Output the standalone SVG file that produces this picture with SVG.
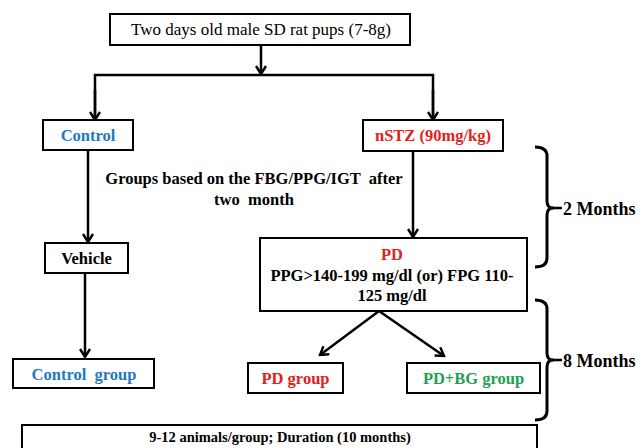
<svg xmlns="http://www.w3.org/2000/svg" width="640" height="448" viewBox="0 0 640 448">
<defs>
<style>
.box{fill:#fff;stroke:#000;stroke-width:2}
.t{font-family:"Liberation Serif","Times New Roman",serif;font-weight:bold;font-size:16.5px;text-anchor:middle;fill:#000}
.reg{font-weight:normal;font-size:17px}
.blue{fill:#2479be}
.red{fill:#e3211c}
.green{fill:#1fa055}
.ln{fill:none;stroke:#000;stroke-width:2.5}
.br{fill:none;stroke:#000;stroke-width:3;stroke-linejoin:round}
</style>
<marker id="ah" viewBox="0 0 12 12" refX="10" refY="6" markerWidth="12" markerHeight="12" markerUnits="userSpaceOnUse" orient="auto">
<path d="M2,1 L10,6 L2,11" fill="none" stroke="#000" stroke-width="2.4"/>
</marker>
</defs>
<rect width="640" height="448" fill="#fff"/>

<g id="connectors">
<line class="ln" x1="261" y1="45" x2="261" y2="74" marker-end="url(#ah)"/>
<polyline class="ln" points="95,121 95,75 433,75 433,121"/>
<line class="ln" x1="95" y1="90" x2="95" y2="120" marker-end="url(#ah)"/>
<line class="ln" x1="433" y1="90" x2="433" y2="120" marker-end="url(#ah)"/>
<line class="ln" x1="88" y1="150" x2="88" y2="242" marker-end="url(#ah)"/>
<line class="ln" x1="85" y1="273" x2="85" y2="357" marker-end="url(#ah)"/>
<line class="ln" x1="413" y1="151" x2="413" y2="237" marker-end="url(#ah)"/>
<line class="ln" x1="379" y1="311" x2="320" y2="355" marker-end="url(#ah)"/>
<line class="ln" x1="379" y1="311" x2="444" y2="356" marker-end="url(#ah)"/>
</g>

<g id="start">
<rect class="box" x="110" y="14" width="300" height="31" stroke-width="2.5"/>
<text class="t reg" x="261" y="35">Two days old male SD rat pups (7-8g)</text>
</g>

<g id="control">
<rect class="box" x="43" y="120" width="90" height="30"/>
<text class="t blue" x="88" y="141">Control</text>
</g>

<g id="nstz">
<rect class="box" x="363" y="120" width="140" height="31"/>
<text class="t red" x="433" y="141">nSTZ (90mg/kg)</text>
</g>

<g id="groups-label">
<text class="t" x="254" y="184" xml:space="preserve">Groups based on the FBG/PPG/IGT  after</text>
<text class="t" x="254" y="205" xml:space="preserve">two  month</text>
</g>

<g id="vehicle">
<rect class="box" x="45" y="243" width="83" height="30"/>
<text class="t" x="86.5" y="264">Vehicle</text>
</g>

<g id="pd">
<rect class="box" x="260" y="238" width="267" height="73"/>
<text class="t red" x="392" y="260">PD</text>
<text class="t" x="392" y="281">PPG&gt;140-199 mg/dl (or) FPG 110-</text>
<text class="t" x="392" y="301">125 mg/dl</text>
</g>

<g id="control-group">
<rect class="box" x="13" y="359" width="141" height="29"/>
<text class="t blue" x="84" y="380" xml:space="preserve">Control  group</text>
</g>

<g id="pd-group">
<rect class="box" x="248" y="363" width="95" height="30"/>
<text class="t red" x="295.5" y="384">PD group</text>
</g>

<g id="pdbg-group">
<rect class="box" x="407" y="363" width="133" height="30"/>
<text class="t green" x="473.5" y="384">PD+BG group</text>
</g>

<g id="bracket-2m">
<path class="br" d="M535,147 Q547,147 547,156 L547,201 Q547,208 553,208 Q547,208 547,215 L547,258 Q547,267 535,267"/>
<line class="ln" x1="552" y1="208" x2="562" y2="208"/>
<text class="t" x="563" y="215" style="text-anchor:start;font-size:18px">2 Months</text>
</g>

<g id="bracket-8m">
<path class="br" d="M535,300 Q547,300 547,309 L547,353 Q547,360 553,360 Q547,360 547,367 L547,411 Q547,420 535,420"/>
<line class="ln" x1="552" y1="360" x2="562" y2="360"/>
<text class="t" x="563" y="367" style="text-anchor:start;font-size:18px">8 Months</text>
</g>

<g id="summary">
<rect class="box" x="22" y="425" width="515" height="40"/>
<text class="t" x="280" y="442" style="font-size:14.5px">9-12 animals/group; Duration (10 months)</text>
</g>
</svg>
